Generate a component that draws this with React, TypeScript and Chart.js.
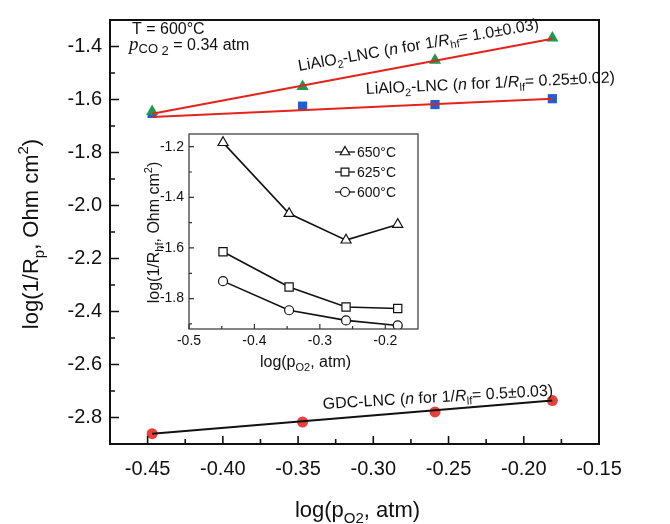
import React, { useEffect, useRef } from "react";
import { Chart, registerables } from "chart.js";
Chart.register(...registerables);

// ---------- data ----------
const xTickLabels = [-0.45, -0.4, -0.35, -0.3, -0.25, -0.2, -0.15];
const yTickLabels = [-2.8, -2.6, -2.4, -2.2, -2.0, -1.8, -1.6, -1.4];
const pO2 = [-0.447, -0.347, -0.259, -0.181];
const liAlO2Hf = [-1.645, -1.551, -1.452, -1.368];
const liAlO2Lf = [-1.672, -1.625, -1.619, -1.597];
const gdcLf = [-2.861, -2.817, -2.779, -2.736];
const fitX = [-0.447, -0.181];
const liAlO2HfFit = [-1.654, -1.371];
const liAlO2LfFit = [-1.666, -1.597];
const gdcLfFit = [-2.861, -2.736];

const insetXTickLabels = [-0.5, -0.4, -0.3, -0.2];
const insetYTickLabels = [-1.8, -1.6, -1.4, -1.2];
const insetPO2 = [-0.448, -0.347, -0.26, -0.181];
const hf650 = [-1.184, -1.464, -1.569, -1.507];
const hf625 = [-1.615, -1.754, -1.833, -1.839];
const hf600 = [-1.731, -1.846, -1.886, -1.906];
const insetSeriesNames = ["650°C", "625°C", "600°C"];

const SANS = '"Liberation Sans", Arial, sans-serif';
const SERIF = '"Liberation Serif", "Times New Roman", serif';
const INK = "#111";

type Seg = { t: string; size: number; italic?: boolean; family?: string; dy?: number };

function drawRich(ctx: CanvasRenderingContext2D, segs: Seg[], x: number, y: number, angle = 0, align = "left") {
  ctx.save();
  ctx.translate(x, y);
  ctx.rotate((angle * Math.PI) / 180);
  ctx.fillStyle = INK;
  ctx.textBaseline = "alphabetic";
  ctx.textAlign = "left";
  const fontOf = (s: Seg) => `${s.italic ? "italic " : ""}${s.size}px ${s.family || SANS}`;
  let total = 0;
  const ws = segs.map((s) => {
    ctx.font = fontOf(s);
    const w = ctx.measureText(s.t).width;
    total += w;
    return w;
  });
  let cx = align === "center" ? -total / 2 : align === "right" ? -total : 0;
  segs.forEach((s, i) => {
    ctx.font = fontOf(s);
    ctx.fillText(s.t, cx, s.dy || 0);
    cx += ws[i];
  });
  ctx.restore();
}

const pts = (xs: number[], ys: number[]) => xs.map((x, i) => ({ x, y: ys[i] }));

function drawMarker(ctx: CanvasRenderingContext2D, style: string, x: number, y: number, r: number) {
  ctx.save();
  ctx.fillStyle = "#fff";
  ctx.strokeStyle = INK;
  ctx.lineWidth = 1.2;
  ctx.beginPath();
  if (style === "circle") {
    ctx.arc(x, y, r, 0, Math.PI * 2);
  } else if (style === "rect") {
    const s = r * Math.SQRT1_2;
    ctx.rect(x - s, y - s, 2 * s, 2 * s);
  } else {
    const h = r;
    ctx.moveTo(x, y - h);
    ctx.lineTo(x + h * Math.cos(Math.PI / 6), y + h / 2);
    ctx.lineTo(x - h * Math.cos(Math.PI / 6), y + h / 2);
    ctx.closePath();
  }
  ctx.fill();
  ctx.stroke();
  ctx.restore();
}

const mainDeco = {
  id: "mainDeco",
  afterDraw(chart: any) {
    const { ctx, chartArea: a } = chart;
    const x = chart.scales.x;
    const y = chart.scales.y;
    ctx.save();
    ctx.strokeStyle = INK;
    ctx.lineWidth = 2;
    ctx.strokeRect(a.left, a.top, a.right - a.left, a.bottom - a.top);
    ctx.lineWidth = 1.6;
    ctx.beginPath();
    const xs = xTickLabels[1] - xTickLabels[0];
    xTickLabels.forEach((v) => {
      const px = x.getPixelForValue(v);
      ctx.moveTo(px, a.bottom);
      ctx.lineTo(px, a.bottom - 8);
      const pm = x.getPixelForValue(v - xs / 2);
      if (pm > a.left + 2) {
        ctx.moveTo(pm, a.bottom);
        ctx.lineTo(pm, a.bottom - 5);
      }
    });
    const ys = yTickLabels[1] - yTickLabels[0];
    yTickLabels.forEach((v) => {
      const py = y.getPixelForValue(v);
      ctx.moveTo(a.left, py);
      ctx.lineTo(a.left + 9, py);
      const pm = y.getPixelForValue(v + ys / 2);
      if (pm > a.top + 2) {
        ctx.moveTo(a.left, pm);
        ctx.lineTo(a.left + 5, pm);
      }
    });
    ctx.stroke();
    ctx.restore();

    // axis titles
    drawRich(ctx, [
      { t: "log(p", size: 22 },
      { t: "O2", size: 15, dy: 6 },
      { t: ", atm)", size: 22 },
    ], (a.left + a.right) / 2 + 3, 517, 0, "center");
    drawRich(ctx, [
      { t: "log(1/R", size: 22 },
      { t: "p", size: 15, dy: 6 },
      { t: ", Ohm cm", size: 22 },
      { t: "2", size: 15, dy: -10 },
      { t: ")", size: 22 },
    ], 38, (a.top + a.bottom) / 2 + 2, -90, "center");

    // annotations
    drawRich(ctx, [{ t: "T = 600°C", size: 16 }], a.left + 22, 34);
    drawRich(ctx, [
      { t: "p", size: 19, italic: true, family: SERIF },
      { t: "CO", size: 13, dy: 3 },
      { t: " 2", size: 13, dy: 5 },
      { t: " = 0.34 atm", size: 16 },
    ], a.left + 19, 50);
    drawRich(ctx, [
      { t: "LiAlO", size: 16 },
      { t: "2", size: 11, dy: 4 },
      { t: "-LNC (", size: 16 },
      { t: "n", size: 16, italic: true },
      { t: " for 1/", size: 16 },
      { t: "R", size: 16, italic: true },
      { t: "hf", size: 11, dy: 4 },
      { t: "= 1.0±0.03)", size: 16 },
    ], 299, 71, -9.9);
    drawRich(ctx, [
      { t: "LiAlO", size: 16 },
      { t: "2", size: 11, dy: 4 },
      { t: "-LNC (", size: 16 },
      { t: "n", size: 16, italic: true },
      { t: " for 1/", size: 16 },
      { t: "R", size: 16, italic: true },
      { t: "lf", size: 11, dy: 4 },
      { t: "= 0.25±0.02)", size: 16 },
    ], 366, 94, -2.7);
    drawRich(ctx, [
      { t: "GDC-LNC (", size: 16 },
      { t: "n", size: 16, italic: true },
      { t: " for 1/", size: 16 },
      { t: "R", size: 16, italic: true },
      { t: "lf", size: 11, dy: 4 },
      { t: "= 0.5±0.03)", size: 16 },
    ], 323, 409, -3.4);
  },
};

const insetDeco = {
  id: "insetDeco",
  beforeDraw(chart: any) {
    const { ctx, width, height } = chart;
    ctx.save();
    ctx.fillStyle = "#fff";
    ctx.fillRect(0, 0, width, height);
    ctx.restore();
  },
  afterDraw(chart: any) {
    const { ctx, chartArea: a } = chart;
    const x = chart.scales.x;
    const y = chart.scales.y;
    ctx.save();
    ctx.strokeStyle = "#333";
    ctx.lineWidth = 1.2;
    ctx.strokeRect(a.left, a.top, a.right - a.left, a.bottom - a.top);
    ctx.beginPath();
    const xs = insetXTickLabels[1] - insetXTickLabels[0];
    insetXTickLabels.forEach((v) => {
      const px = x.getPixelForValue(v);
      ctx.moveTo(px, a.bottom);
      ctx.lineTo(px, a.bottom - 5);
      const pm = x.getPixelForValue(v + xs / 2);
      if (pm < a.right - 2) {
        ctx.moveTo(pm, a.bottom);
        ctx.lineTo(pm, a.bottom - 3);
      }
    });
    const ys = insetYTickLabels[1] - insetYTickLabels[0];
    insetYTickLabels.forEach((v) => {
      const py = y.getPixelForValue(v);
      ctx.moveTo(a.left, py);
      ctx.lineTo(a.left + 5, py);
      const pm = y.getPixelForValue(v - ys / 2);
      if (pm < a.bottom - 2) {
        ctx.moveTo(a.left, pm);
        ctx.lineTo(a.left + 3, pm);
      }
    });
    ctx.stroke();

    // legend
    const styles = ["triangle", "rect", "circle"];
    const radii = [5.5, 5.5, 4.5];
    styles.forEach((st, i) => {
      const ly = 34 + i * 20;
      ctx.strokeStyle = INK;
      ctx.lineWidth = 1.3;
      ctx.beginPath();
      ctx.moveTo(199, ly);
      ctx.lineTo(219, ly);
      ctx.stroke();
      drawMarker(ctx, st, 209, ly, radii[i]);
      ctx.fillStyle = INK;
      ctx.font = `14px ${SANS}`;
      ctx.textBaseline = "middle";
      ctx.fillText(insetSeriesNames[i], 221, ly + 1);
    });
    ctx.restore();

    drawRich(ctx, [
      { t: "log(p", size: 16 },
      { t: "O2", size: 11, dy: 4 },
      { t: ", atm)", size: 16 },
    ], (a.left + a.right) / 2 + 2, 249, 0, "center");
    drawRich(ctx, [
      { t: "log(1/R", size: 16 },
      { t: "hf", size: 11, dy: 4 },
      { t: ", Ohm cm", size: 16 },
      { t: "2", size: 11, dy: -7 },
      { t: ")", size: 16 },
    ], 23, (a.top + a.bottom) / 2 + 1, -90, "center");
  },
};

export default function App() {
  const mainRef = useRef<HTMLCanvasElement>(null);
  const insetRef = useRef<HTMLCanvasElement>(null);

  useEffect(() => {
    const green = "#1e9a4c";
    const blue = "#1f5fd3";
    const red = "#e8403a";
    const lineRed = "#e4231d";
    const main = new Chart(mainRef.current as HTMLCanvasElement, {
      type: "scatter",
      data: {
        datasets: [
          { data: pts(fitX, liAlO2HfFit), showLine: true, borderColor: lineRed, borderWidth: 2, pointRadius: 0, order: 0 },
          { data: pts(fitX, liAlO2LfFit), showLine: true, borderColor: lineRed, borderWidth: 2, pointRadius: 0, order: 0 },
          { data: pts(fitX, gdcLfFit), showLine: true, borderColor: INK, borderWidth: 2, pointRadius: 0, order: 0 },
          { data: pts(pO2, liAlO2Hf), pointStyle: "triangle", pointRadius: 7, backgroundColor: green, borderColor: green, borderWidth: 0, order: 1 },
          { data: pts(pO2, liAlO2Lf), pointStyle: "rect", pointRadius: 6.5, backgroundColor: blue, borderColor: blue, borderWidth: 0, order: 1 },
          { data: pts(pO2, gdcLf), pointStyle: "circle", pointRadius: 5.5, backgroundColor: red, borderColor: red, borderWidth: 0, order: 1 },
        ],
      } as any,
      options: {
        responsive: false,
        animation: false,
        layout: { padding: { top: 14, right: 71, left: 0, bottom: 0 } },
        plugins: { legend: { display: false }, tooltip: { enabled: false } },
        scales: {
          x: {
            type: "linear",
            min: -0.475,
            max: -0.15,
            grid: { display: false, drawTicks: false },
            border: { display: false },
            afterBuildTicks: (s: any) => { s.ticks = xTickLabels.map((v) => ({ value: v })); },
            afterFit: (s: any) => { s.height = 80; },
            ticks: {
              padding: 13,
              color: INK,
              font: { size: 20, family: SANS },
              maxRotation: 0,
              autoSkip: false,
              callback: (v: any) => Number(v).toFixed(2),
            },
          },
          y: {
            type: "linear",
            min: -2.9,
            max: -1.3,
            grid: { display: false, drawTicks: false },
            border: { display: false },
            afterBuildTicks: (s: any) => { s.ticks = yTickLabels.map((v) => ({ value: v })); },
            afterFit: (s: any) => { s.width = 110; },
            ticks: {
              padding: 8,
              color: INK,
              font: { size: 20, family: SANS },
              autoSkip: false,
              callback: (v: any) => Number(v).toFixed(1),
            },
          },
        },
      } as any,
      plugins: [mainDeco],
    });

    const insetLine = (ys: number[], style: string, r: number) => ({
      data: pts(insetPO2, ys),
      showLine: true,
      borderColor: INK,
      borderWidth: 1.6,
      pointStyle: style,
      pointRadius: r,
      pointBackgroundColor: "#fff",
      pointBorderColor: INK,
      pointBorderWidth: 1.2,
    });
    const inset = new Chart(insetRef.current as HTMLCanvasElement, {
      type: "scatter",
      data: {
        datasets: [
          insetLine(hf650, "triangle", 5.8),
          insetLine(hf625, "rect", 5.8),
          insetLine(hf600, "circle", 4.5),
        ],
      } as any,
      options: {
        responsive: false,
        animation: false,
        layout: { padding: { top: 16, right: 20, left: 0, bottom: 0 } },
        plugins: { legend: { display: false }, tooltip: { enabled: false } },
        scales: {
          x: {
            type: "linear",
            min: -0.5,
            max: -0.15,
            grid: { display: false, drawTicks: false },
            border: { display: false },
            afterBuildTicks: (s: any) => { s.ticks = insetXTickLabels.map((v) => ({ value: v })); },
            afterFit: (s: any) => { s.height = 49; },
            ticks: {
              padding: 4,
              color: INK,
              font: { size: 14, family: SANS },
              maxRotation: 0,
              autoSkip: false,
              callback: (v: any) => Number(v).toFixed(1),
            },
          },
          y: {
            type: "linear",
            min: -1.92,
            max: -1.15,
            grid: { display: false, drawTicks: false },
            border: { display: false },
            afterBuildTicks: (s: any) => { s.ticks = insetYTickLabels.map((v) => ({ value: v })); },
            afterFit: (s: any) => { s.width = 53; },
            ticks: {
              padding: 5,
              color: INK,
              font: { size: 14, family: SANS },
              autoSkip: false,
              callback: (v: any) => Number(v).toFixed(1),
            },
          },
        },
      } as any,
      plugins: [insetDeco],
    });

    return () => {
      main.destroy();
      inset.destroy();
    };
  }, []);

  return (
    <div style={{ position: "fixed", left: 0, top: 0, width: 670, height: 524, background: "#fff" }}>
      <canvas ref={mainRef} width={670} height={524} style={{ position: "absolute", left: 0, top: 0 }} />
      <canvas ref={insetRef} width={302} height={260} style={{ position: "absolute", left: 136, top: 118 }} />
    </div>
  );
}
